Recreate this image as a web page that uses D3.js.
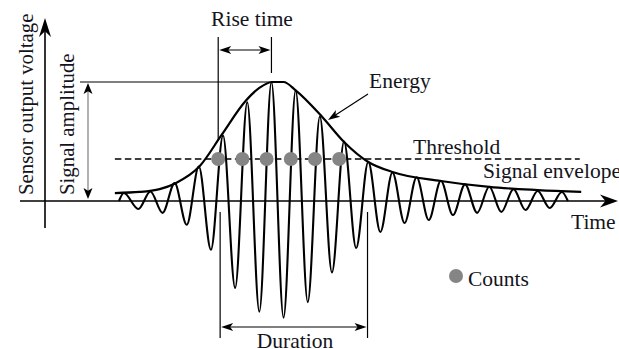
<!DOCTYPE html>
<html><head><meta charset="utf-8">
<script src="https://cdn.jsdelivr.net/npm/d3@7"></script>
<style>html,body{margin:0;padding:0;background:#fff;overflow:hidden}</style>
</head><body><svg id="c" width="619" height="349"></svg>
<script>
// ---- data (time in oscillation periods, amplitude in % of peak) ----
const startTime = -0.3, endTime = 18.25;
const peakTimes = [-0.1, 1, 2, 3, 4, 5, 6, 7, 8, 9, 10, 11, 12, 13, 14, 15, 16, 17, 18];
const peakAmps  = [6.7, 8, 15, 29, 55, 83, 100, 93, 71, 50, 33, 24, 20, 17, 14, 12, 10, 8.4, 7.6];
const troughTimes = [0.5, 1.5, 2.5, 3.5, 4.5, 5.5, 6.5, 7.5, 8.5, 9.5, 10.5, 11.5, 12.5, 13.5, 14.5, 15.5, 16.5, 17.5];
const troughAmps  = [-6.7, -10, -20, -41, -73, -93, -98, -85, -60, -39.5, -26, -18.5, -16, -11.8, -10, -9.2, -7.6, -5.9];
const envelopeTimes = [-0.47, 0.56, 1.38, 2.04, 3.04, 3.94, 4.93, 5.5, 6.03, 6.5, 7, 8.1, 9, 10, 11, 13, 15, 17, 18.8];
const envelopeAmps  = [6.7, 7.6, 10, 15, 29.4, 55.5, 84, 95, 100, 100, 93, 70.6, 49.6, 32.8, 24.4, 16.8, 11.8, 9.2, 7.6];
const thresholdAmp = 35.3;
const thresholdRange = [-0.47, 18.74];
const countTimes = [3.8, 4.8, 5.8, 6.8, 7.8, 8.8];
const riseTime = [3.8, 6];
const duration = [3.88, 9.97];
const labels = {
  y: "Sensor output voltage", amp: "Signal amplitude", rise: "Rise time",
  energy: "Energy", threshold: "Threshold", envelope: "Signal envelope",
  time: "Time", counts: "Counts", duration: "Duration"
};

// ---- scales ----
const x = d3.scaleLinear().domain([-4.39, 20.32]).range([20, 618]);
const y = d3.scaleLinear().domain([-100, 100]).range([320, 82]);

const svg = d3.select("#c");
svg.append("rect").attr("width", 619).attr("height", 349).attr("fill", "#fff");

function arrowHead(g, tx, ty, angle, len, hw, notch) {
  const p = `M0,0 L${-len},${-hw} L${-len*notch},0 L${-len},${hw} Z`;
  g.append("path").attr("d", p).attr("fill", "#000")
    .attr("transform", `translate(${tx},${ty}) rotate(${angle})`);
}

const font = "'Liberation Serif','Times New Roman',serif";
const txtColor = "#141420";

// axes
const y0 = y(0);
svg.append("line").attr("x1", 20).attr("x2", 612).attr("y1", y0).attr("y2", y0)
  .attr("stroke", "#000").attr("stroke-width", 1.6);
arrowHead(svg, 618, y0, 0, 18, 6.5, 0.7);
svg.append("line").attr("x1", 45).attr("x2", 45).attr("y1", 228).attr("y2", 24)
  .attr("stroke", "#000").attr("stroke-width", 1.6);
arrowHead(svg, 45, 18, -90, 19, 6, 0.7);

// threshold
svg.append("line").attr("x1", x(thresholdRange[0])).attr("x2", x(thresholdRange[1]))
  .attr("y1", y(thresholdAmp)).attr("y2", y(thresholdAmp))
  .attr("stroke", "#000").attr("stroke-width", 1.4).attr("stroke-dasharray", "6.5,3.5");

// waveform
const pts = [[startTime, 0]];
peakTimes.forEach((t, i) => pts.push([t, peakAmps[i]]));
troughTimes.forEach((t, i) => pts.push([t, troughAmps[i]]));
pts.push([endTime, 0]);
pts.sort((a, b) => a[0] - b[0]);
const line = d3.line().x(d => x(d[0])).y(d => y(d[1])).curve(d3.curveMonotoneX);
svg.append("path").attr("d", line(pts)).attr("fill", "none")
  .attr("stroke", "#000").attr("stroke-width", 2.1).attr("stroke-linejoin", "round");

// envelope
const env = envelopeTimes.map((t, i) => [t, envelopeAmps[i]]);
svg.append("path").attr("d", line(env)).attr("fill", "none")
  .attr("stroke", "#000").attr("stroke-width", 2.2);

// counts dots
svg.selectAll("circle.cnt").data(countTimes).join("circle").attr("class", "cnt")
  .attr("cx", d => x(d)).attr("cy", y(thresholdAmp)).attr("r", 7).attr("fill", "#858585");

// amplitude marker
const pk = y(d3.max(peakAmps));
svg.append("line").attr("x1", 80).attr("x2", x(riseTime[1])).attr("y1", pk).attr("y2", pk)
  .attr("stroke", "#000").attr("stroke-width", 1.2);
svg.append("line").attr("x1", 88).attr("x2", 88).attr("y1", pk + 8).attr("y2", y0 - 8)
  .attr("stroke", "#888").attr("stroke-width", 1.3);
arrowHead(svg, 88, pk + 1, -90, 11, 4.5, 0.75);
arrowHead(svg, 88, y0 - 2, 90, 11, 4.5, 0.75);

// rise time
const rx1 = x(riseTime[0]), rx2 = x(riseTime[1]);
svg.append("line").attr("x1", rx1).attr("x2", rx1).attr("y1", 37).attr("y2", 140)
  .attr("stroke", "#000").attr("stroke-width", 1.2);
svg.append("line").attr("x1", rx2).attr("x2", rx2).attr("y1", 37).attr("y2", 73)
  .attr("stroke", "#000").attr("stroke-width", 1.2);
svg.append("line").attr("x1", rx1 + 6).attr("x2", rx2 - 6).attr("y1", 50).attr("y2", 50)
  .attr("stroke", "#000").attr("stroke-width", 1.2);
arrowHead(svg, rx1 + 1, 50, 180, 12, 4, 0.75);
arrowHead(svg, rx2 - 1, 50, 0, 12, 4, 0.75);

// duration
const dx1 = x(duration[0]), dx2 = x(duration[1]);
[dx1, dx2].forEach(xx => svg.append("line").attr("x1", xx).attr("x2", xx).attr("y1", 212).attr("y2", 338)
  .attr("stroke", "#000").attr("stroke-width", 1.2));
svg.append("line").attr("x1", dx1 + 6).attr("x2", dx2 - 6).attr("y1", 327).attr("y2", 327)
  .attr("stroke", "#000").attr("stroke-width", 1.2);
arrowHead(svg, dx1 + 1, 327, 180, 12, 4, 0.75);
arrowHead(svg, dx2 - 1, 327, 0, 12, 4, 0.75);

// energy arrow
svg.append("line").attr("x1", 368).attr("y1", 94).attr("x2", 334).attr("y2", 116)
  .attr("stroke", "#000").attr("stroke-width", 1.2);
arrowHead(svg, 328, 120, Math.atan2(120 - 94, 328 - 368) * 180 / Math.PI, 12, 4, 0.75);

// legend dot
svg.append("circle").attr("cx", 456).attr("cy", 276).attr("r", 7).attr("fill", "#858585");

// texts
function txt(s, tx, ty, size, anchor, rot) {
  const t = svg.append("text").text(s).attr("font-family", font).attr("font-size", size)
    .attr("fill", txtColor).attr("text-anchor", anchor || "start");
  if (rot) t.attr("transform", `translate(${tx},${ty}) rotate(${rot})`);
  else t.attr("x", tx).attr("y", ty);
  return t;
}
txt(labels.rise, 252, 26, 21.5, "middle");
txt(labels.energy, 369, 88, 21.5);
txt(labels.threshold, 413, 154, 21.5);
txt(labels.envelope, 483, 178, 21.5);
txt(labels.time, 571, 229, 21.5);
txt(labels.counts, 468, 286, 21.5);
txt(labels.duration, 295, 348, 21.5, "middle");
txt(labels.y, 33, 195, 20.8, "start", -90);
txt(labels.amp, 74, 195, 20.8, "start", -90);
</script></body></html>
